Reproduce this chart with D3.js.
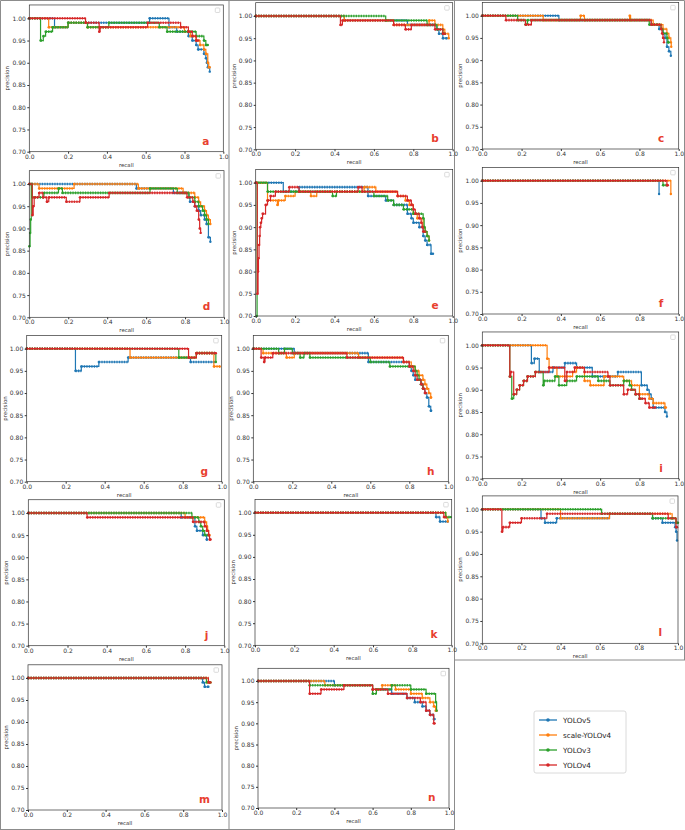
<!DOCTYPE html>
<html>
<head>
<meta charset="utf-8">
<script src="https://cdn.jsdelivr.net/npm/d3@7"></script>
<style>
  body { margin: 0; background: #fff; }
  svg text { font-family: "DejaVu Sans", sans-serif; }
</style>
</head>
<body>
<svg id="chart" width="685" height="830"></svg>
<script>
// series order: YOLOv5, scale-YOLOv4, YOLOv3, YOLOv4
var seriesNames = ["YOLOv5", "scale-YOLOv4", "YOLOv3", "YOLOv4"];
var seriesColors = ["#1f77b4", "#ff7f0e", "#2ca02c", "#d62728"];
var panelLetters = ["a", "b", "c", "d", "e", "f", "g", "h", "i", "j", "k", "l", "m", "n"];
var xTicks = [0.0, 0.2, 0.4, 0.6, 0.8, 1.0];
var yTicks = [0.70, 0.75, 0.80, 0.85, 0.90, 0.95, 1.00];
var yMax = 1.03;

// [recall, precision] step vertices, one list per series
var curvesA = [
    [[0,1.00],[0.13,0.98],[0.2,0.99],[0.62,1.00],[0.72,0.98],[0.76,0.97],[0.82,0.96],[0.84,0.95],[0.86,0.94],[0.87,0.93],[0.9,0.92],[0.91,0.91],[0.915,0.90],[0.92,0.89],[0.93,0.88]],
    [[0,1.00],[0.10,0.98],[0.2,0.99],[0.3,0.98],[0.8,0.97],[0.83,0.96],[0.86,0.95],[0.88,0.94],[0.9,0.93],[0.91,0.92],[0.92,0.90],[0.925,0.89],[0.93,0.89]],
    [[0,1.00],[0.058,0.95],[0.072,0.96],[0.084,0.97],[0.12,0.98],[0.2,0.99],[0.3,0.98],[0.41,0.99],[0.67,0.98],[0.71,0.97],[0.86,0.96],[0.9,0.95],[0.91,0.94],[0.92,0.94]],
    [[0,1.00],[0.29,0.99],[0.36,0.97],[0.365,0.98],[0.61,0.99],[0.78,0.98],[0.82,0.97],[0.84,0.96],[0.86,0.95],[0.87,0.95]]
];
var curvesB = [
    [[0,1.00],[0.45,0.99],[0.77,0.98],[0.92,0.97],[0.93,0.96],[0.95,0.95],[0.97,0.95]],
    [[0,1.00],[0.45,0.99],[0.70,0.98],[0.88,0.99],[0.91,0.98],[0.95,0.97],[0.96,0.96],[0.98,0.95]],
    [[0,1.00],[0.66,0.99],[0.87,0.98],[0.92,0.97],[0.95,0.96],[0.96,0.96]],
    [[0,1.00],[0.43,0.98],[0.44,0.99],[0.70,0.98],[0.76,0.97],[0.79,0.98],[0.91,0.97],[0.95,0.96],[0.96,0.96]]
];
var curvesC = [
    [[0,1.00],[0.39,0.99],[0.86,0.98],[0.90,0.97],[0.92,0.96],[0.93,0.95],[0.94,0.93],[0.95,0.92],[0.96,0.91]],
    [[0,1.00],[0.31,0.99],[0.50,1.00],[0.52,0.99],[0.75,1.00],[0.755,0.99],[0.87,0.98],[0.92,0.97],[0.94,0.96],[0.95,0.95],[0.96,0.94],[0.962,0.93]],
    [[0,1.00],[0.18,0.99],[0.22,0.98],[0.23,0.99],[0.85,0.98],[0.91,0.97],[0.92,0.96],[0.94,0.95],[0.945,0.94],[0.95,0.94]],
    [[0,1.00],[0.12,0.99],[0.22,0.98],[0.25,0.99],[0.86,0.98],[0.91,0.97],[0.915,0.96],[0.92,0.95],[0.925,0.94]]
];
var curvesD = [
    [[0,1.00],[0.55,0.99],[0.74,0.98],[0.82,0.97],[0.825,0.96],[0.85,0.95],[0.87,0.94],[0.88,0.93],[0.9,0.92],[0.91,0.91],[0.92,0.88],[0.93,0.87]],
    [[0,1.00],[0.05,0.99],[0.23,1.00],[0.56,0.99],[0.79,0.98],[0.85,0.97],[0.87,0.96],[0.88,0.95],[0.9,0.94],[0.91,0.93],[0.92,0.92],[0.93,0.91]],
    [[0,0.86],[0.004,0.89],[0.007,0.92],[0.01,1.00],[0.015,0.97],[0.075,0.98],[0.15,0.99],[0.17,0.98],[0.62,0.99],[0.76,0.98],[0.82,0.97],[0.85,0.96],[0.87,0.95],[0.89,0.94],[0.9,0.93],[0.91,0.92],[0.92,0.91]],
    [[0,1.00],[0.015,0.93],[0.02,0.95],[0.025,0.97],[0.05,0.98],[0.07,0.97],[0.09,0.96],[0.1,0.97],[0.19,0.96],[0.26,0.97],[0.41,0.98],[0.81,0.97],[0.84,0.96],[0.85,0.95],[0.86,0.94],[0.87,0.92],[0.875,0.90],[0.88,0.89]]
];
var curvesE = [
    [[0,1.00],[0.14,0.98],[0.22,0.99],[0.57,0.97],[0.66,0.96],[0.70,0.95],[0.77,0.93],[0.79,0.92],[0.80,0.91],[0.83,0.90],[0.85,0.88],[0.86,0.87],[0.87,0.86],[0.89,0.84],[0.9,0.84]],
    [[0,1.00],[0.06,0.96],[0.11,0.95],[0.115,0.96],[0.15,0.97],[0.2,0.98],[0.28,0.97],[0.31,0.98],[0.55,0.99],[0.61,0.98],[0.72,0.97],[0.76,0.96],[0.78,0.95],[0.8,0.93],[0.82,0.92],[0.85,0.90],[0.86,0.89],[0.87,0.88],[0.88,0.87]],
    [[0.005,0.70],[0.007,1.00],[0.06,0.98],[0.39,0.97],[0.41,0.98],[0.6,0.97],[0.67,0.96],[0.7,0.95],[0.75,0.94],[0.8,0.93],[0.85,0.92],[0.855,0.90],[0.86,0.89],[0.87,0.88],[0.88,0.87]],
    [[0,1.00],[0.008,0.75],[0.012,0.80],[0.014,0.83],[0.017,0.86],[0.02,0.88],[0.022,0.90],[0.026,0.91],[0.03,0.92],[0.035,0.93],[0.05,0.95],[0.06,0.96],[0.075,0.97],[0.1,0.98],[0.17,0.99],[0.22,0.98],[0.52,0.99],[0.54,0.98],[0.72,0.97],[0.77,0.96],[0.79,0.95],[0.8,0.94],[0.81,0.93],[0.83,0.92],[0.84,0.91],[0.845,0.90],[0.85,0.89],[0.86,0.89]]
];
var curvesF = [
    [[0,1.00],[0.90,0.97]],
    [[0,1.00],[0.96,0.97]],
    [[0,1.00],[0.92,0.99],[0.94,0.99]],
    [[0,1.00],[0.94,0.99],[0.945,0.99]]
];
var curvesG = [
    [[0,1.00],[0.25,0.95],[0.28,0.96],[0.37,0.97],[0.52,0.98],[0.84,0.97],[0.96,0.97]],
    [[0,1.00],[0.53,0.98],[0.87,0.99],[0.96,0.96],[0.99,0.96]],
    [[0,1.00],[0.78,0.98],[0.87,0.99],[0.97,0.97]],
    [[0,1.00],[0.83,0.98],[0.87,0.99],[0.97,0.99]]
];
var curvesH = [
    [[0,1.00],[0.21,0.99],[0.59,0.97],[0.8,0.96],[0.81,0.95],[0.82,0.94],[0.83,0.93],[0.86,0.92],[0.87,0.91],[0.88,0.90],[0.89,0.89],[0.9,0.87],[0.91,0.86],[0.912,0.86]],
    [[0,1.00],[0.05,0.99],[0.17,0.98],[0.21,0.99],[0.54,0.98],[0.77,0.97],[0.81,0.96],[0.83,0.95],[0.85,0.94],[0.87,0.93],[0.88,0.92],[0.89,0.91],[0.9,0.90],[0.91,0.89],[0.912,0.89]],
    [[0,1.00],[0.13,0.99],[0.16,1.00],[0.2,0.99],[0.24,0.98],[0.26,0.99],[0.29,0.98],[0.6,0.97],[0.7,0.96],[0.83,0.95],[0.84,0.94],[0.85,0.93],[0.86,0.92],[0.87,0.91],[0.875,0.91]],
    [[0,1.00],[0.04,0.98],[0.055,0.97],[0.06,0.98],[0.1,0.99],[0.48,0.98],[0.77,0.97],[0.80,0.96],[0.82,0.95],[0.83,0.94],[0.84,0.93],[0.86,0.92],[0.87,0.91],[0.88,0.90],[0.885,0.90]]
];
var curvesI = [
    [[0,1.00],[0.25,0.96],[0.265,0.97],[0.29,0.94],[0.36,0.95],[0.42,0.96],[0.48,0.95],[0.56,0.93],[0.69,0.94],[0.81,0.91],[0.84,0.90],[0.85,0.89],[0.86,0.88],[0.87,0.86],[0.93,0.85],[0.94,0.84]],
    [[0,1.00],[0.33,0.97],[0.34,0.95],[0.38,0.93],[0.46,0.94],[0.48,0.95],[0.52,0.92],[0.55,0.91],[0.62,0.93],[0.72,0.92],[0.76,0.91],[0.8,0.89],[0.85,0.88],[0.87,0.87],[0.93,0.86],[0.935,0.86]],
    [[0,1.00],[0.14,0.93],[0.15,0.88],[0.16,0.89],[0.175,0.90],[0.19,0.91],[0.21,0.92],[0.23,0.93],[0.27,0.94],[0.31,0.91],[0.315,0.92],[0.37,0.93],[0.39,0.91],[0.43,0.92],[0.48,0.93],[0.59,0.92],[0.65,0.91],[0.72,0.92],[0.75,0.91],[0.76,0.90],[0.78,0.89],[0.80,0.88],[0.81,0.88]],
    [[0,1.00],[0.14,0.93],[0.145,0.94],[0.16,0.89],[0.175,0.90],[0.19,0.91],[0.21,0.92],[0.23,0.93],[0.27,0.94],[0.34,0.95],[0.42,0.92],[0.43,0.94],[0.47,0.95],[0.52,0.94],[0.64,0.93],[0.65,0.91],[0.72,0.89],[0.74,0.90],[0.78,0.89],[0.8,0.88],[0.83,0.87],[0.85,0.86],[0.88,0.86]]
];
var curvesJ = [
    [[0,1.00],[0.78,0.99],[0.85,0.97],[0.86,0.96],[0.89,0.95],[0.91,0.94],[0.912,0.94]],
    [[0,1.00],[0.80,0.99],[0.90,0.98],[0.91,0.97],[0.915,0.96],[0.92,0.95],[0.925,0.95]],
    [[0,1.00],[0.835,0.99],[0.87,0.98],[0.88,0.97],[0.89,0.96],[0.9,0.95],[0.92,0.95]],
    [[0,1.00],[0.30,0.99],[0.84,0.98],[0.90,0.97],[0.91,0.96],[0.92,0.95],[0.925,0.94],[0.93,0.94]]
];
var curvesK = [
    [[0,1.00],[0.92,0.99],[0.94,0.98],[0.98,0.98]],
    [[0,1.00],[0.97,0.99],[0.98,0.98]],
    [[0,1.00],[0.97,0.99],[0.995,0.99]],
    [[0,1.00],[0.96,0.99],[0.97,0.99]]
];
var curvesL = [
    [[0,1.00],[0.30,0.98],[0.32,0.97],[0.38,0.98],[0.65,0.99],[0.87,0.98],[0.92,0.97],[0.985,0.96],[0.99,0.95],[0.995,0.93]],
    [[0,1.00],[0.40,0.98],[0.65,0.99],[0.97,0.98],[0.99,0.97],[0.995,0.97]],
    [[0,1.00],[0.61,0.99],[0.87,0.98],[0.97,0.98],[0.99,0.97],[1.0,0.97]],
    [[0,1.00],[0.10,0.95],[0.105,0.96],[0.14,0.97],[0.2,0.98],[0.33,0.99],[0.95,0.98],[0.99,0.96],[0.995,0.96]]
];
var curvesM = [
    [[0,1.00],[0.9,0.99],[0.91,0.98],[0.93,0.98]],
    [[0,1.00],[0.93,0.99],[0.94,0.99]],
    [[0,1.00],[0.92,0.99],[0.94,0.99]],
    [[0,1.00],[0.93,0.99],[0.94,0.99]]
];
var curvesN = [
    [[0,1.00],[0.40,0.99],[0.6,0.98],[0.7,0.97],[0.78,0.96],[0.82,0.95],[0.86,0.94],[0.88,0.93],[0.9,0.92],[0.92,0.91],[0.925,0.91]],
    [[0,1.00],[0.35,0.99],[0.6,0.98],[0.65,0.99],[0.72,0.98],[0.8,0.97],[0.86,0.96],[0.9,0.95],[0.92,0.94],[0.93,0.93],[0.935,0.93]],
    [[0,1.00],[0.27,0.99],[0.6,0.97],[0.62,0.98],[0.7,0.99],[0.8,0.98],[0.88,0.97],[0.93,0.95],[0.935,0.93]],
    [[0,1.00],[0.27,0.97],[0.33,0.98],[0.45,0.99],[0.6,0.98],[0.68,0.97],[0.78,0.96],[0.85,0.95],[0.88,0.93],[0.9,0.92],[0.92,0.90],[0.925,0.90]]
];

var allCurves = [curvesA, curvesB, curvesC, curvesD, curvesE, curvesF, curvesG,
                 curvesH, curvesI, curvesJ, curvesK, curvesL, curvesM, curvesN];

// pixel box of each axes: L/R = recall 0/1, B/T = precision 0.70/1.00
var layout = [
    { L: 29.3,  R: 223.3, B: 151.7, T: 18.3 },
    { L: 255.7, R: 452.7, B: 149.3, T: 16 },
    { L: 482.3, R: 678.7, B: 149,   T: 15.7 },
    { L: 29.3,  R: 224,   B: 317.3, T: 184 },
    { L: 255.7, R: 452.7, B: 316,   T: 182.7 },
    { L: 482.3, R: 678.7, B: 314,   T: 180.7 },
    { L: 26.7,  R: 221.7, B: 481.7, T: 348.7 },
    { L: 253.3, R: 448.3, B: 481.7, T: 348.7 },
    { L: 482.3, R: 678.7, B: 478.7, T: 345.3 },
    { L: 28.3,  R: 224.3, B: 645.7, T: 513 },
    { L: 255,   R: 451.7, B: 645.3, T: 512.7 },
    { L: 482.3, R: 678,   B: 643.3, T: 509.3 },
    { L: 28,    R: 222,   B: 810,   T: 678 },
    { L: 258,   R: 449,   B: 808,   T: 681 }
];

var svg = d3.select("#chart");

//
// screenshot borders around the panels
//
var borders = svg.append("g").attr("stroke", "#8c8c8c").attr("stroke-width", 1).attr("fill", "none");
borders.append("path").attr("d",
    "M0.5,829.5V0.5H684.5V660" +
    "M229,0V830M454.5,0V830" +
    "M0,829.5H454.5M454.5,660H685");

//
// draw_panel:
//   one precision-recall axes with its four step curves
//
function draw_panel(box, curves, letter) {
    var x = d3.scaleLinear().domain([0, 1]).range([box.L, box.R]);
    var y = d3.scaleLinear().domain([0.7, 1.0]).range([box.B, box.T]);
    var top = y(yMax);
    var g = svg.append("g");

    var line = d3.line()
                 .x(function(d) { return x(d[0]); })
                 .y(function(d) { return y(d[1]); })
                 .curve(d3.curveStepAfter);
    var seg = d3.line()
                .x(function(d) { return x(d[0]); })
                .y(function(d) { return y(d[1]); });

    curves.forEach(function(pts, s) {
        var color = seriesColors[s];
        g.append("path")
         .attr("d", line(pts))
         .attr("fill", "none")
         .attr("stroke", color)
         .attr("stroke-width", 1.2);
        // marker beads along the flat parts
        var flats = d3.pairs(pts).map(function(p) {
            return [p[0], [p[1][0], p[0][1]]];
        });
        g.append("path")
         .attr("d", flats.map(function(f) { return seg(f); }).join(""))
         .attr("fill", "none")
         .attr("stroke", color)
         .attr("stroke-width", 2.6)
         .attr("stroke-dasharray", "1.3 1.2")
         .attr("opacity", 0.9);
        g.append("g").selectAll("circle")
         .data(pts)
         .join("circle")
         .attr("cx", function(d) { return x(d[0]); })
         .attr("cy", function(d) { return y(d[1]); })
         .attr("r", 1.2)
         .attr("fill", color);
    });

    // spines
    g.append("rect")
     .attr("x", box.L).attr("y", top)
     .attr("width", box.R - box.L).attr("height", box.B - top)
     .attr("fill", "none").attr("stroke", "#333").attr("stroke-width", 0.7);

    var gx = g.append("g")
              .attr("transform", "translate(0," + box.B + ")")
              .call(d3.axisBottom(x).tickValues(xTicks)
                      .tickFormat(d3.format(".1f")).tickSize(2).tickPadding(1));
    gx.select(".domain").remove();
    gx.attr("font-size", 6).attr("font-family", "DejaVu Sans").attr("color", "#333");
    gx.selectAll("text").attr("y", 7.2).attr("dy", 0);

    var gy = g.append("g")
              .attr("transform", "translate(" + box.L + ",0)")
              .call(d3.axisLeft(y).tickValues(yTicks)
                      .tickFormat(d3.format(".2f")).tickSize(2).tickPadding(1.5));
    gy.select(".domain").remove();
    gy.attr("font-size", 6).attr("font-family", "DejaVu Sans").attr("color", "#333");

    g.append("text")
     .attr("x", (box.L + box.R) / 2).attr("y", box.B + 15)
     .attr("text-anchor", "middle").attr("font-size", 5.4).attr("fill", "#333")
     .text("recall");
    g.append("text")
     .attr("transform", "translate(" + (box.L - 20) + "," + ((top + box.B) / 2) + ") rotate(-90)")
     .attr("text-anchor", "middle").attr("font-size", 5.4).attr("fill", "#333")
     .text("precision");

    // empty legend box matplotlib left behind
    g.append("rect")
     .attr("x", box.R - 8).attr("y", top + 3)
     .attr("width", 4.5).attr("height", 4.5).attr("rx", 0.8)
     .attr("fill", "#fff").attr("stroke", "#ccc").attr("stroke-width", 0.7);

    g.append("text")
     .attr("x", x(0.91)).attr("y", y(0.716))
     .attr("text-anchor", "middle").attr("font-size", 10.5).attr("font-weight", "bold")
     .attr("fill", "#e8402f")
     .text(letter);
}

allCurves.forEach(function(curves, i) {
    draw_panel(layout[i], curves, panelLetters[i]);
});

//
// shared legend
//
var legend = svg.append("g").attr("transform", "translate(534,711)");
legend.append("rect")
      .attr("width", 92).attr("height", 62).attr("rx", 2)
      .attr("fill", "#fff").attr("stroke", "#d0d0d0").attr("stroke-width", 0.8);
seriesNames.forEach(function(name, i) {
    var row = legend.append("g").attr("transform", "translate(0," + (9 + i * 15) + ")");
    row.append("line")
       .attr("x1", 5).attr("x2", 23).attr("y1", 0).attr("y2", 0)
       .attr("stroke", seriesColors[i]).attr("stroke-width", 1.3);
    row.append("circle")
       .attr("cx", 14).attr("cy", 0).attr("r", 1.8).attr("fill", seriesColors[i]);
    row.append("text")
       .attr("x", 29).attr("y", 2.6)
       .attr("font-size", 7.2).attr("fill", "#222")
       .text(name);
});
</script>
</body>
</html>
